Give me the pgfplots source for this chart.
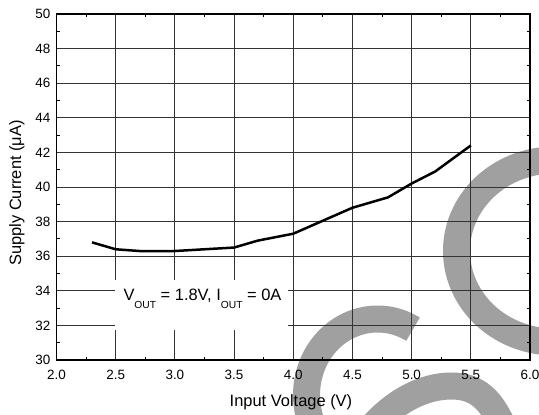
\documentclass[border=0pt]{standalone}
\usepackage{fontspec}
\setmainfont{Liberation Sans}
\usepackage{pgfplots}
\pgfplotsset{compat=1.18}
\definecolor{wm}{RGB}{160,160,160}
\begin{document}
\begin{tikzpicture}
\useasboundingbox (-56.5bp,-55bp) rectangle (482.5bp,360bp);
% background watermark
\begin{scope}[wm, line width=27bp]
\draw (356.5bp,30.8bp) arc[start angle=60,end angle=205,x radius=71bp,y radius=76bp];
\draw (547bp,187.8bp) arc[start angle=60,end angle=300,x radius=98bp,y radius=91bp];
\draw (311bp,-72bp) .. controls (338bp,-40bp) and (368bp,-26bp) .. (395bp,-26bp) .. controls (421bp,-26bp) and (435bp,-40bp) .. (448bp,-70bp);
\end{scope}
\begin{axis}[
  at={(0,0)}, anchor=south west, scale only axis,
  width=473.5bp, height=346bp,
  xmin=2, xmax=6, ymin=30, ymax=50,
  xtick={2,2.5,3,3.5,4,4.5,5,5.5,6},
  ytick={30,32,34,36,38,40,42,44,46,48,50},
  minor x tick num=1, minor y tick num=1,
  tick align=inside, major tick length=0pt, minor tick length=3bp,
  grid=major, major grid style={black!80, line width=0.9bp},
  axis line style={line width=1.2bp},
  every tick/.style={black, line width=0.8bp},
  tick label style={font=\fontsize{13.5}{15}\selectfont},
  /pgf/number format/assume math mode=true,
  xticklabel style={inner sep=0pt, anchor=north, yshift=-10bp,
    /pgf/number format/fixed, /pgf/number format/fixed zerofill, /pgf/number format/precision=1},
  yticklabel style={inner sep=0pt, anchor=east, xshift=-6bp},
  xlabel={Input Voltage (V)},
  xlabel style={at={(axis description cs:0.4952,-0.13295)}, anchor=base, inner sep=0pt, font=\fontsize{16.5}{18}\selectfont},
  ylabel={Supply Current (μA)},
  ylabel style={at={(axis description cs:-0.07455,0.4827)}, anchor=base, inner sep=0pt, font=\fontsize{16.5}{18}\selectfont},
]
\fill[white] (axis cs:2.494,31.73) rectangle (axis cs:3.955,34.62);
\node[anchor=base, inner sep=0pt, font=\fontsize{16.5}{18}\selectfont] at (axis cs:3.233,33.44)
  {V\raisebox{-7.8bp}{\fontsize{10.3}{11}\selectfont OUT} = 1.8V, I\raisebox{-7.8bp}{\fontsize{10.3}{11}\selectfont OUT} = 0A};
\addplot[black, line width=2.5bp] coordinates {
 (2.3,36.8) (2.5,36.4) (2.7,36.3) (3.0,36.3) (3.25,36.4) (3.5,36.5) (3.7,36.9)
 (4.0,37.3) (4.25,38.05) (4.5,38.8) (4.8,39.4) (5.0,40.2) (5.2,40.9) (5.5,42.4)};
\end{axis}
\end{tikzpicture}
\end{document}
